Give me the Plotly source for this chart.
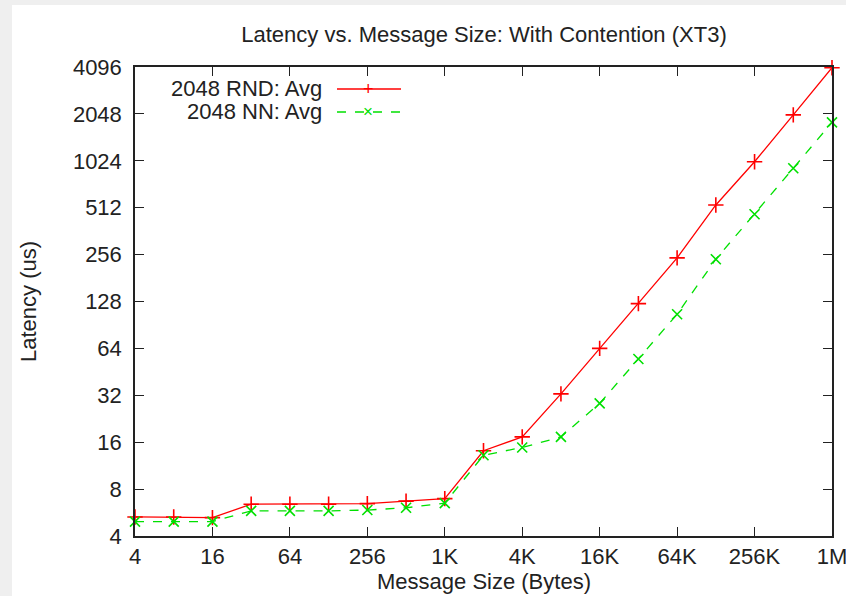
import math
import plotly.graph_objects as go

sizes = [4, 8, 16, 32, 64, 128, 256, 512, 1024, 2048, 4096, 8192, 16384, 32768,
         65536, 131072, 262144, 524288, 1048576]
rnd_avg = [5.3, 5.3, 5.25, 6.4, 6.4, 6.4, 6.45, 6.7, 6.95, 14.1, 17.3, 32.7, 64,
           124, 244, 533, 1010, 2020, 4050]
nn_avg = [4.95, 4.95, 4.95, 5.8, 5.8, 5.8, 5.87, 6.07, 6.5, 13.2, 14.8, 17.3, 28.4,
          54.7, 106, 239, 465, 917, 1808]

x_tickvals = [4, 16, 64, 256, 1024, 4096, 16384, 65536, 262144, 1048576]
x_ticktext = ["4", "16", "64", "256", "1K", "4K", "16K", "64K", "256K", "1M"]
y_tickvals = [4, 8, 16, 32, 64, 128, 256, 512, 1024, 2048, 4096]
y_ticktext = [str(v) for v in y_tickvals]

series_names = ["2048 RND: Avg", "2048 NN: Avg"]
colors = ["#ff0000", "#00e000"]
x_title = "Message Size (Bytes)"

FONT = "Liberation Sans, Arial, sans-serif"
FS = 22
W, H = 846, 596
L, R, T, B = 135, 14, 67, H - 536
pw, ph = W - L - R, H - T - B
EPS = 1e-7

def px2paper_x(px):
    return (px - L) / pw

def px2paper_y(py):
    return 1 - (py - T) / ph

fig = go.Figure()
fig.add_trace(go.Scatter(
    x=sizes, y=rnd_avg, mode="lines+markers", name=series_names[0],
    line=dict(color=colors[0], width=1.3),
    marker=dict(symbol="cross-thin", size=11, line=dict(color=colors[0], width=1.6)),
    showlegend=False, cliponaxis=False))
fig.add_trace(go.Scatter(
    x=sizes, y=nn_avg, mode="lines+markers", name=series_names[1],
    line=dict(color=colors[1], width=1.3, dash="dash"),
    marker=dict(symbol="x-thin", size=10, line=dict(color=colors[1], width=1.6)),
    showlegend=False, cliponaxis=False))

# manual gnuplot-style legend (text, then line sample)
legend_rows = [89, 112]
for i, (name, col) in enumerate(zip(series_names, colors)):
    yp = px2paper_y(legend_rows[i])
    fig.add_annotation(xref="paper", yref="paper", x=px2paper_x(324), y=yp,
                       text=name, showarrow=False, xanchor="right", yanchor="middle",
                       font=dict(family=FONT, size=FS, color="#222"))
    fig.add_shape(type="line", xref="paper", yref="paper",
                  x0=px2paper_x(337), x1=px2paper_x(401), y0=yp, y1=yp,
                  line=dict(color=col, width=1.3, dash="solid" if i == 0 else "dash"))
    fig.add_annotation(xref="paper", yref="paper", x=px2paper_x(368), y=yp,
                       text="+" if i == 0 else "×", showarrow=False,
                       xanchor="center", yanchor="middle",
                       font=dict(family=FONT, size=18 if i == 0 else 17, color=col))

# x-axis title placed like gnuplot's
fig.add_annotation(xref="paper", yref="paper", x=px2paper_x(484), y=px2paper_y(581),
                   text=x_title, showarrow=False, xanchor="center", yanchor="middle",
                   font=dict(family=FONT, size=FS, color="#222"))

# light gray window edges
fig.add_shape(type="rect", xref="paper", yref="paper", layer="below",
              x0=px2paper_x(0), x1=px2paper_x(12), y0=px2paper_y(H), y1=px2paper_y(0),
              fillcolor="#efefef", line=dict(width=0))
fig.add_shape(type="rect", xref="paper", yref="paper", layer="below",
              x0=px2paper_x(0), x1=px2paper_x(W), y0=px2paper_y(5), y1=px2paper_y(0),
              fillcolor="#efefef", line=dict(width=0))

x_range = [math.log10(min(x_tickvals)) - EPS, math.log10(max(x_tickvals)) + EPS]
y_range = [math.log10(min(y_tickvals)) - EPS, math.log10(max(y_tickvals)) + EPS]

fig.update_layout(
    width=W, height=H,
    margin=dict(l=L, r=R, t=T, b=B, autoexpand=False),
    paper_bgcolor="white", plot_bgcolor="white",
    font=dict(family=FONT, size=FS, color="#222"),
    title=dict(text="Latency vs. Message Size: With Contention (XT3)",
               x=484 / W, xanchor="center",
               y=1 - 34 / H, yanchor="middle",
               font=dict(family=FONT, size=FS, color="#222")),
    xaxis=dict(type="log", range=x_range,
               tickvals=x_tickvals, ticktext=x_ticktext,
               ticks="inside", ticklen=9, tickwidth=1.2, tickcolor="#222",
               showline=True, linecolor="#222", linewidth=1.5, mirror="ticks",
               showgrid=False, zeroline=False, ticklabelstandoff=0,
               ticklabeloverflow="allow", automargin=False,
               tickfont=dict(family=FONT, size=FS)),
    yaxis=dict(type="log", range=y_range,
               tickvals=y_tickvals, ticktext=y_ticktext,
               ticks="inside", ticklen=9, tickwidth=1.2, tickcolor="#222",
               showline=True, linecolor="#222", linewidth=1.5, mirror="ticks",
               showgrid=False, zeroline=False, ticklabelstandoff=7,
               ticklabeloverflow="allow", automargin=False,
               tickfont=dict(family=FONT, size=FS),
               title=dict(text="Latency (us)", standoff=30,
                          font=dict(family=FONT, size=FS))),
)

fig.write_html("out.html")
